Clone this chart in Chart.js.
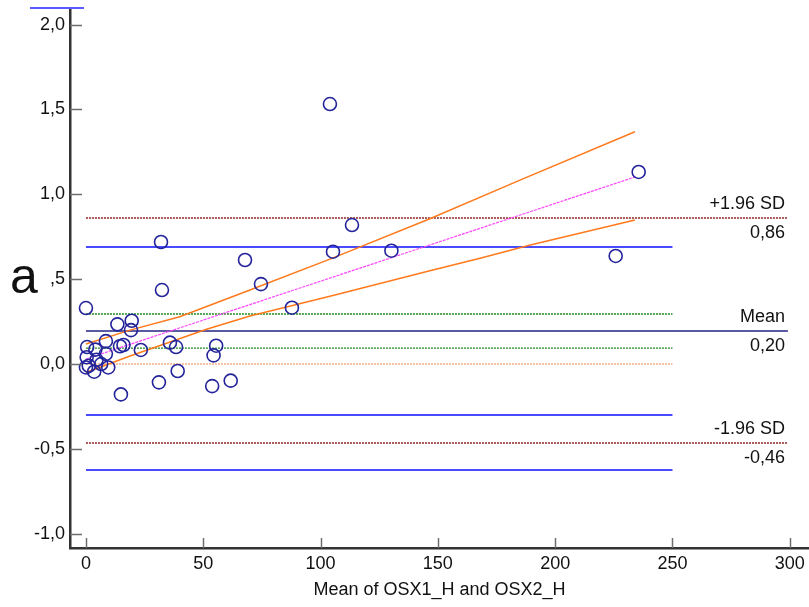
<!DOCTYPE html>
<html>
<head>
<meta charset="utf-8">
<script src="https://cdn.jsdelivr.net/npm/chart.js@4/dist/chart.umd.min.js"></script>
<style>
  html, body { margin: 0; padding: 0; background: #fff; }
  canvas { display: block; }
</style>
</head>
<body>
<canvas id="baChart" width="809" height="607"></canvas>
<script>
// Data
const MEAN_VALUES = [
  0.5, 4, 8.5, 0.3, 4.5, 8.5, 1.2, 3.5, 9.5, 0, 6.5,
  0, 13.4, 19.5, 19.2, 14.5, 16, 23.4, 14.9,
  32, 32.4, 35.8, 38.4, 39.1, 31.1,
  55.5, 54.4, 53.8, 61.7, 67.8, 74.6, 87.8,
  104, 105.3, 113.4, 130.2, 225.8, 235.6
];
const DIFF_VALUES = [
  0.10, 0.085, 0.135, 0.04, 0.025, 0.06, -0.01, -0.045, -0.02, -0.02, 0.0,
  0.33, 0.234, 0.255, 0.20, 0.105, 0.112, 0.083, -0.179,
  0.719, 0.436, 0.126, 0.10, -0.041, -0.108,
  0.108, 0.051, -0.13, -0.098, 0.613, 0.471, 0.332,
  1.532, 0.662, 0.819, 0.668, 0.637, 1.132
];

// regression of differences and its confidence band
const REG_X = [0, 234.4];
const REG_Y = [0.03, 1.104];
const BAND_UP_X = [0, 18.8, 40, 69.9, 104, 146.6, 185, 234];
const BAND_UP_Y = [0.118, 0.2, 0.279, 0.436, 0.618, 0.856, 1.084, 1.369];
const BAND_LO_X = [0, 18.8, 51.4, 69.9, 104, 146.6, 168, 189, 234];
const BAND_LO_Y = [-0.05, 0.047, 0.205, 0.283, 0.40, 0.55, 0.623, 0.70, 0.849];

// horizontal reference lines
const MEAN_DIFF = 0.195;
const LOA_UPPER = 0.86;
const LOA_LOWER = -0.466;
const MEAN_CI = [0.295, 0.094];
const LOA_CI = [0.689, -0.30, -0.625];
const ZERO_LINE = 0;
const LONG_END = 299.2;
const SHORT_END = 250;

const X_TICKS = [0, 50, 100, 150, 200, 250, 300];
const Y_TICKS = [-1, -0.5, 0, 0.5, 1, 1.5, 2];
const Y_TICK_LABELS = ["-1,0", "-0,5", "0,0", ",5", "1,0", "1,5", "2,0"];
const SIDE_LABELS = [
  { value: LOA_UPPER, above: "+1.96 SD", below: "0,86" },
  { value: MEAN_DIFF, above: "Mean", below: "0,20" },
  { value: LOA_LOWER, above: "-1.96 SD", below: "-0,46" },
];

const FONT = '"Liberation Sans", Arial, sans-serif';

function hLine(v, end, color, width, dash) {
  return {
    data: [{ x: 0, y: v }, { x: end, y: v }],
    showLine: true,
    borderColor: color,
    borderWidth: width,
    borderDash: dash || [],
    pointRadius: 0,
    order: 5,
  };
}

function xyLine(xs, ys, color, width, dash) {
  return {
    data: xs.map((x, i) => ({ x, y: ys[i] })),
    showLine: true,
    borderColor: color,
    borderWidth: width,
    borderDash: dash || [],
    pointRadius: 0,
    tension: 0,
    order: 4,
  };
}

const datasets = [
  hLine(ZERO_LINE, SHORT_END, "#f7c2a4", 2, [2, 1]),
  ...MEAN_CI.map((v) => hLine(v, SHORT_END, "#1e8a1e", 1.3, [2, 1])),
  ...LOA_CI.map((v) => hLine(v, SHORT_END, "#4a4aff", 2)),
  hLine(MEAN_DIFF, LONG_END, "#5a5aa2", 2),
  hLine(LOA_UPPER, LONG_END, "#a85a5a", 2, [2, 1]),
  hLine(LOA_LOWER, LONG_END, "#a85a5a", 2, [2, 1]),
  xyLine(BAND_UP_X, BAND_UP_Y, "#ff7a1c", 1.5),
  xyLine(BAND_LO_X, BAND_LO_Y, "#ff7a1c", 1.5),
  xyLine(REG_X, REG_Y, "#ff44ff", 1.2, [3, 1]),
  {
    data: MEAN_VALUES.map((x, i) => ({ x, y: DIFF_VALUES[i] })),
    showLine: false,
    pointStyle: "circle",
    pointRadius: 6.5,
    pointBorderWidth: 1.6,
    pointBorderColor: "#23239a",
    pointBackgroundColor: "rgba(0,0,0,0)",
    order: 1,
  },
];

// inside tick marks, side labels, panel letter
const decorations = {
  id: "decorations",
  afterDraw(chart) {
    const { ctx, chartArea, scales } = chart;
    const xs = scales.x, ys = scales.y;
    ctx.save();
    ctx.strokeStyle = "#6e6e6e";
    ctx.lineWidth = 1.5;
    X_TICKS.forEach((v) => {
      const px = Math.round(xs.getPixelForValue(v)) + 0.5;
      ctx.beginPath();
      ctx.moveTo(px, chartArea.bottom);
      ctx.lineTo(px, chartArea.bottom - 10);
      ctx.stroke();
    });
    Y_TICKS.forEach((v) => {
      const py = Math.round(ys.getPixelForValue(v)) + 0.5;
      ctx.beginPath();
      ctx.moveTo(chartArea.left, py);
      ctx.lineTo(chartArea.left + 12, py);
      ctx.stroke();
    });

    // short blue mark at the top left
    ctx.strokeStyle = "#5a5aff";
    ctx.lineWidth = 2;
    ctx.beginPath();
    ctx.moveTo(30, chartArea.top);
    ctx.lineTo(84, chartArea.top);
    ctx.stroke();

    ctx.fillStyle = "#111";
    ctx.font = "18px " + FONT;
    ctx.textAlign = "right";
    ctx.textBaseline = "middle";
    const lx = xs.getPixelForValue(298);
    SIDE_LABELS.forEach((l) => {
      const py = ys.getPixelForValue(l.value);
      ctx.fillText(l.above, lx, py - 14);
      ctx.fillText(l.below, lx, py + 15);
    });

    ctx.font = "50px " + FONT;
    ctx.textAlign = "left";
    ctx.textBaseline = "alphabetic";
    ctx.fillText("a", 10, 293);
    ctx.restore();
  },
};

function noPad(s) {
  s.paddingLeft = 0;
  s.paddingRight = 0;
  s.paddingTop = 0;
  s.paddingBottom = 0;
}

new Chart(document.getElementById("baChart"), {
  type: "scatter",
  data: { datasets },
  options: {
    responsive: false,
    animation: false,
    layout: { autoPadding: false, padding: { top: 8, right: 0, left: 0, bottom: 0 } },
    plugins: {
      legend: { display: false },
      tooltip: { enabled: false },
    },
    scales: {
      x: {
        type: "linear",
        min: -6.8,
        max: 308.2,
        afterBuildTicks: (s) => { s.ticks = X_TICKS.map((v) => ({ value: v })); },
        afterFit: (s) => { s.height = 59; noPad(s); },
        grid: { display: false, drawTicks: false, tickLength: 0 },
        border: { display: true, color: "#333", width: 2.5 },
        ticks: { color: "#111", font: { family: FONT, size: 18 }, padding: 5, maxRotation: 0 },
        title: {
          display: true,
          text: "Mean of OSX1_H and OSX2_H",
          color: "#111",
          font: { family: FONT, size: 18 },
          padding: { top: 0, bottom: 6 },
        },
      },
      y: {
        type: "linear",
        min: -1.084,
        max: 2.098,
        afterBuildTicks: (s) => { s.ticks = Y_TICKS.map((v) => ({ value: v })); },
        afterFit: (s) => { s.width = 70; noPad(s); },
        grid: { display: false, drawTicks: false, tickLength: 0 },
        border: { display: true, color: "#333", width: 2.5 },
        ticks: {
          color: "#111",
          font: { family: FONT, size: 18 },
          padding: 5,
          callback: (v) => {
            const i = Y_TICKS.indexOf(v);
            return i >= 0 ? Y_TICK_LABELS[i] : "";
          },
        },
      },
    },
  },
  plugins: [decorations],
});
</script>
</body>
</html>
